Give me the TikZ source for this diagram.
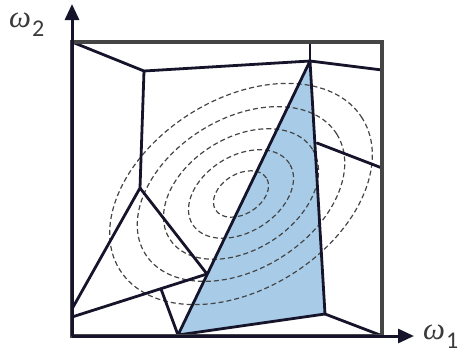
\documentclass[tikz,border=0pt]{standalone}
\usepackage{fontspec}
\newfontfamily\wfont{Liberation Serif}
\newfontfamily\dfont{Carlito}
\usetikzlibrary{arrows.meta}
\definecolor{boxgray}{HTML}{454545}
\definecolor{labelgray}{HTML}{3A3A3A}
\definecolor{edge}{HTML}{16142A}
\definecolor{cellblue}{RGB}{168,204,232}
\definecolor{dashgray}{HTML}{454545}
\newcommand{\omlab}[1]{{\wfont\itshape\fontsize{31}{31}\selectfont ω}\hspace{1pt}\raisebox{-9pt}{\dfont\fontsize{24}{24}\selectfont #1}}
\tikzset{
  cell/.style={draw=edge, line width=2.8pt, line join=round, line cap=round},
  contour/.style={draw=dashgray, line width=1.2pt, dash pattern=on 5pt off 3pt},
  axis/.style={draw=edge, line width=3pt, -{Triangle[length=16pt,width=14pt]}},
  axlabel/.style={text=labelgray, inner sep=0pt, anchor=base west}
}
\begin{document}
\begin{tikzpicture}[x=1pt,y=-1pt]
\useasboundingbox (0,0) rectangle (469,354);
% vertices
\coordinate (O) at (72,336);
\coordinate (TL) at (72,42);
\coordinate (BR) at (382,336);
\coordinate (A) at (144,71);
\coordinate (B) at (310,61);
\coordinate (Bt) at (310,42);
\coordinate (C) at (382,70);
\coordinate (D) at (140,188);
\coordinate (E) at (72,309);
\coordinate (F) at (207,274);
\coordinate (G) at (72,317);
\coordinate (H) at (161,289);
\coordinate (I) at (178,335);
\coordinate (J) at (325,314);
\coordinate (K) at (380,335);
\coordinate (L) at (317,143);
\coordinate (M) at (382,168);
\coordinate (Ctr) at (241,194);
\coordinate (Ytip) at (72,4);
\coordinate (Xtip) at (414,336);
% blue cell
\fill[cellblue] (B) -- (I) -- (J) -- cycle;
% contours
\foreach \s in {0.21,0.40,0.59,0.79,1.0}{
  \draw[contour, rotate around={32:(Ctr)}] (Ctr) ellipse [x radius=\s*143pt, y radius=\s*95pt];
}
% cell edges
\draw[cell] (TL) -- (A) -- (B) -- (C);
\draw[cell] (B) -- (Bt);
\draw[cell] (A) -- (D) -- (E);
\draw[cell] (D) -- (F);
\draw[cell] (G) -- (F);
\draw[cell] (H) -- (I);
\draw[cell] (B) -- (I) -- (J) -- cycle;
\draw[cell] (J) -- (K);
\draw[cell] (L) -- (M);
% frame
\draw[boxgray, line width=4pt, line join=miter] (TL) rectangle (BR);
% axes
\draw[axis] (O) -- (Ytip);
\draw[axis] (O) -- (Xtip);
\node[axlabel] (w2) at (9,27) {\omlab{2}};
\node[axlabel] (w1) at (423,339) {\omlab{1}};
\end{tikzpicture}
\end{document}
